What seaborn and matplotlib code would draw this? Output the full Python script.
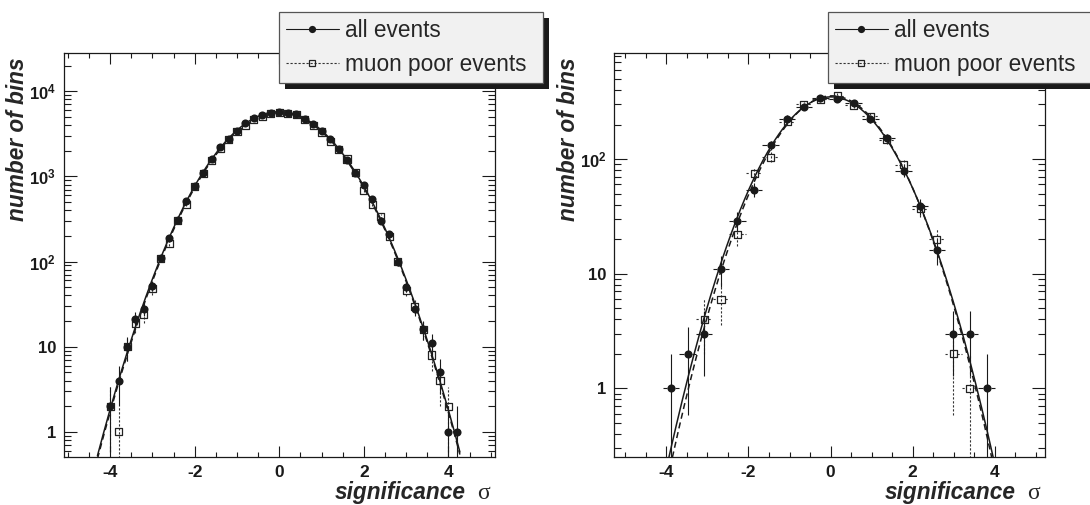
import numpy as np
import matplotlib
matplotlib.use("Agg")
import matplotlib.pyplot as plt
from matplotlib.lines import Line2D
from matplotlib.patches import Rectangle
from matplotlib.ticker import MultipleLocator, LogLocator, FuncFormatter, NullFormatter
import seaborn as sns

# ---- data ----
# left histogram, bin width 0.2
left_x = [-4.0, -3.8, -3.6, -3.4, -3.2, -3.0, -2.8, -2.6, -2.4, -2.2, -2.0,
          -1.8, -1.6, -1.4, -1.2, -1.0, -0.8, -0.6, -0.4, -0.2, 0.0,
          0.2, 0.4, 0.6, 0.8, 1.0, 1.2, 1.4, 1.6, 1.8, 2.0,
          2.2, 2.4, 2.6, 2.8, 3.0, 3.2, 3.4, 3.6, 3.8, 4.0, 4.2]
left_all = [2, 4, 10, 21, 28, 52, 110, 190, 305, 515, 780,
            1110, 1580, 2230, 2770, 3440, 4230, 4850, 5300, 5600, 5750,
            5600, 5450, 4770, 4080, 3440, 2770, 2080, 1550, 1110, 800,
            550, 300, 210, 98, 51, 28, 16, 11, 5, 1, 1]
left_muon = [2, 1, 10, 19, 24, 48, 110, 164, 300, 473, 765,
             1090, 1550, 2140, 2700, 3350, 4000, 4680, 5080, 5500, 5560,
             5420, 5300, 4700, 4000, 3320, 2580, 2050, 1600, 1100, 684,
             473, 339, 195, 100, 46, 30, 16, 8, 4, 2, None]

# right histogram, bin width ~0.4
right_x = [-3.89, -3.48, -3.08, -2.67, -2.27, -1.86, -1.46, -1.06, -0.65, -0.25,
           0.16, 0.56, 0.97, 1.37, 1.78, 2.18, 2.59, 2.99, 3.39, 3.80]
right_all = [1, 2, 3, 11, 29, 54, 132, 225, 282, 340,
             331, 309, 222, 153, 79, 39, 16, 3, 3, 1]
right_muon = [None, None, 4, 6, 22, 75, 104, 212, 300, 333,
              355, 294, 237, 148, 89, 37, 20, 2, 1, None]

legend_labels = ["all events", "muon poor events"]
ylabel = "number of bins"
xlabel = "significance"

# ---- style ----
sns.set_theme(style="ticks")
plt.rcParams["font.family"] = ["Liberation Sans", "DejaVu Sans"]
plt.rcParams["font.weight"] = "bold"
plt.rcParams["axes.unicode_minus"] = False
plt.rcParams["mathtext.fontset"] = "custom"
plt.rcParams["mathtext.rm"] = "Liberation Sans"
plt.rcParams["mathtext.bf"] = "Liberation Sans:bold"

W, H = 1090, 505
fig = plt.figure(figsize=(W / 100, H / 100), dpi=100)
ax_l = fig.add_axes([63.6 / W, 1 - 457.3 / H, 431.4 / W, 404.8 / H])
ax_r = fig.add_axes([613.8 / W, 1 - 457.3 / H, 430.7 / W, 404.8 / H])

DOT = (0, (2, 1.6))
DASH = (0, (4, 2.5))


def log_fmt(v, pos):
    n = int(round(np.log10(v)))
    if n == 0:
        return "1"
    if n == 1:
        return "10"
    return r"$\mathbf{10^{%d}}$" % n


def gauss_fit(x, y):
    # gaussian fit = quadratic in log space, weighted by poisson errors
    x = np.asarray(x, float)
    y = np.asarray(y, float)
    ok = np.isfinite(y) & (y > 0)
    return np.polyfit(x[ok], np.log(y[ok]), 2, w=np.sqrt(y[ok]))


def draw_panel(ax, x, y_all, y_muon, xlim, ylim, fit_range, xerr=None, gap=0.0):
    x = np.asarray(x, float)
    ya = np.array([np.nan if v is None else v for v in y_all], float)
    ym = np.array([np.nan if v is None else v for v in y_muon], float)

    for yy, ls, col in [(ym, DOT, "#333333"), (ya, "-", "k")]:
        ok = np.isfinite(yy)
        err = np.sqrt(yy[ok])
        lo = np.clip(yy[ok] - err, 1e-3, None)
        ax.vlines(x[ok], lo, yy[ok] + err, colors=col, linestyles=ls, lw=0.8, zorder=2)
        if xerr is not None:
            ax.hlines(yy[ok], x[ok] - xerr, x[ok] - gap, colors=col, linestyles=ls,
                      lw=0.8, zorder=2)
            ax.hlines(yy[ok], x[ok] + gap, x[ok] + xerr, colors=col, linestyles=ls,
                      lw=0.8, zorder=2)

    xf = np.linspace(fit_range[0], fit_range[1], 300)
    for yy, ls in [(ya, "-"), (ym, DASH)]:
        p = gauss_fit(x, yy)
        sns.lineplot(x=xf, y=np.exp(np.polyval(p, xf)), ax=ax, color="k", lw=1.1,
                     linestyle=ls, zorder=3)

    okm = np.isfinite(ym)
    sns.scatterplot(x=x[okm], y=ym[okm], ax=ax, marker="s", s=26, facecolor="none",
                    edgecolor="#222222", linewidth=0.9, zorder=4)
    sns.scatterplot(x=x, y=ya, ax=ax, marker="o", s=34, color="k",
                    edgecolor="k", linewidth=0, zorder=5)

    ax.set_yscale("log")
    ax.set_xlim(*xlim)
    ax.set_ylim(*ylim)
    ax.xaxis.set_major_locator(MultipleLocator(2))
    ax.xaxis.set_minor_locator(MultipleLocator(0.5))
    ax.yaxis.set_major_locator(LogLocator(base=10))
    ax.yaxis.set_minor_locator(LogLocator(base=10, subs=np.arange(2, 10)))
    ax.yaxis.set_major_formatter(FuncFormatter(log_fmt))
    ax.yaxis.set_minor_formatter(NullFormatter())
    ax.tick_params(which="both", direction="in", top=True, right=True, width=0.8,
                   colors="k")
    ax.tick_params(axis="x", which="major", length=7.7, pad=5.5, labelsize=12.5)
    ax.tick_params(axis="x", which="minor", length=3.6)
    ax.tick_params(axis="y", which="major", length=9.4, pad=5.5, labelsize=12)
    ax.tick_params(axis="y", which="minor", length=5.0)
    for s in ax.spines.values():
        s.set_linewidth(0.9)
        s.set_color("k")
    ax.set_xlabel("")
    ax.set_ylabel(ylabel, fontsize=16.3, fontweight="bold", fontstyle="italic", loc="top")
    ax.yaxis.label.set_va("baseline")
    ax.yaxis.set_label_coords(-0.091, 0.989)
    ax.text(0.933, -0.103, xlabel, transform=ax.transAxes, ha="right", va="baseline",
            fontsize=16.3, fontweight="bold", fontstyle="italic")
    ax.text(0.989, -0.103, "σ", transform=ax.transAxes, ha="right", va="baseline",
            fontsize=17, fontweight="normal", family=["Liberation Serif", "DejaVu Serif"])
    ax.grid(False)


draw_panel(ax_l, left_x, left_all, left_muon, (-5.1, 5.1), (0.504, 2.85e4), (-4.3, 4.27))
draw_panel(ax_r, right_x, right_all, right_muon, (-5.28, 5.21), (0.25, 850), (-4.2, 4.1),
           xerr=0.2, gap=0.1)

handles = [
    Line2D([], [], color="k", lw=0.8, marker="o", ms=5.2, markeredgewidth=0),
    Line2D([], [], color="#333333", lw=0.8, linestyle=DOT, marker="s", ms=4.6,
           markerfacecolor="none", markeredgecolor="#222222", markeredgewidth=0.9),
]

fig.canvas.draw()
for x0 in (279 / W, 828 / W):
    leg = fig.legend(handles, legend_labels, loc="upper left",
                     bbox_to_anchor=(x0, 1 - 82.7 / H, 264.3 / W, 70.7 / H),
                     mode="expand", borderaxespad=0, borderpad=0.3, labelspacing=0.5,
                     handlelength=2.35, handletextpad=0.27, numpoints=1,
                     prop={"size": 16.3, "weight": "normal"}, fancybox=False,
                     framealpha=1, facecolor="#f1f1f1", edgecolor="#555555")
    leg.get_frame().set_linewidth(0.9)
    leg.set_zorder(6)
    fig.canvas.draw()
    bb = leg.get_frame().get_window_extent(fig.canvas.get_renderer())
    bb = bb.transformed(fig.transFigure.inverted())
    fig.patches.append(Rectangle((bb.x0 + 6 / W, bb.y0 - 6 / H), bb.width, bb.height,
                                 transform=fig.transFigure, facecolor="k",
                                 edgecolor="none", zorder=5.5))

fig.savefig("out.png", dpi=100)
